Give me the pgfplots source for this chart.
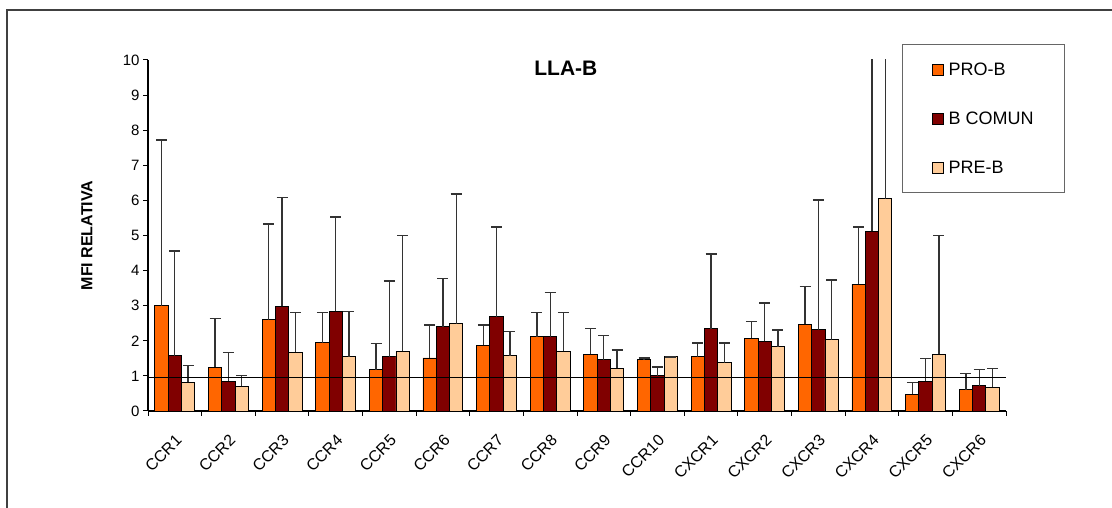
\documentclass[border=0pt]{standalone}
\usepackage{pgfplots}
\pgfplotsset{compat=1.18}
\usepackage{pgfplotstable}
\usepackage{fontspec}
\setmainfont{Liberation Sans}
\definecolor{proB}{HTML}{FF6600}
\definecolor{bcom}{HTML}{800000}
\definecolor{preB}{HTML}{FFCC99}
\definecolor{errc}{HTML}{333333}

\pgfplotstableread{
cat pro proe bc bce pre pree
0 3.00 4.72 1.58 2.98 0.82 0.48
1 1.25 1.39 0.85 0.82 0.70 0.31
2 2.60 2.73 2.98 3.11 1.68 1.13
3 1.95 0.86 2.84 2.69 1.54 1.30
4 1.18 0.74 1.54 2.16 1.70 3.30
5 1.51 0.94 2.40 1.38 2.48 3.70
6 1.87 0.58 2.68 2.56 1.58 0.69
7 2.11 0.70 2.11 1.26 1.70 1.11
8 1.62 0.74 1.46 0.70 1.22 0.52
9 1.46 0.05 1.01 0.24 1.54 0.00
10 1.54 0.40 2.35 2.12 1.38 0.56
11 2.07 0.48 1.98 1.10 1.83 0.48
12 2.47 1.07 2.31 3.70 2.03 1.70
13 3.61 1.63 5.12 8.00 6.05 8.00
14 0.48 0.34 0.85 0.65 1.62 3.38
15 0.61 0.45 0.72 0.46 0.68 0.53
}\datatable

\pgfplotsset{
  mybar/.style={ybar, bar width=0.248, bar shift=0pt,
    error bars/y dir=plus, error bars/y explicit,
    error bars/error bar style={color=errc, line width=1.3pt},
    error bars/error mark options={color=errc, line width=1.3pt, mark size=5.5pt, rotate=90}},
  sqlegend/.style={legend image code/.code={\draw[##1, draw=black, line width=0.9pt] (2pt,-5.5pt) rectangle (13pt,5.5pt);}}
}

\begin{document}
\begin{tikzpicture}[x=1pt,y=1pt]
\useasboundingbox (0,0) rectangle (1112,508);
\draw[line width=1.4pt, color=black!75] (7,0) -- (7,498) -- (1112,498);
\begin{axis}[
  at={(148pt,97pt)}, anchor=south west,
  scale only axis, width=858pt, height=351pt,
  xmin=-0.5, xmax=15.5, ymin=0, ymax=10,
  axis lines*=left, axis line style={-, line width=1.2pt, black},
  xtick={-0.5,0.5,...,15.5},
  xticklabels={CCR1,CCR2,CCR3,CCR4,CCR5,CCR6,CCR7,CCR8,CCR9,CCR10,CXCR1,CXCR2,CXCR3,CXCR4,CXCR5,CXCR6},
  x tick label as interval,
  ytick={0,1,...,10},
  tick align=outside, major tick length=5pt,
  tick style={line width=1pt, black},
  /pgf/number format/assume math mode=true,
  tick label style={font=\fontsize{15}{18}\selectfont},
  xticklabel style={rotate=45, anchor=north east, xshift=-9pt, yshift=-9pt, font=\fontsize{16}{18}\selectfont},
  title={LLA-B},
  title style={font=\bfseries\fontsize{21}{24}\selectfont, at={(rel axis cs:0.487,0.96)}, anchor=center},
  ylabel={MFI RELATIVA},
  ylabel style={font=\bfseries\fontsize{16}{18}\selectfont, at={(rel axis cs:-0.0711,0.5)}, anchor=center},
  legend style={at={(rel axis cs:0.879,1.0456)}, anchor=north west, draw=black!60, line width=1pt,
    font=\fontsize{18}{20}\selectfont, row sep=31pt, inner xsep=29pt, inner ysep=16pt,
    /tikz/every odd column/.append style={column sep=3pt}},
  legend cell align=left,
]
\addplot[mybar, fill=proB, draw=black, line width=0.9pt, sqlegend] table[x expr=\thisrow{cat}-0.248, y=pro, y error=proe] {\datatable};
\addplot[mybar, fill=bcom, draw=black, line width=0.9pt, sqlegend] table[x=cat, y=bc, y error=bce] {\datatable};
\addplot[mybar, fill=preB, draw=black, line width=0.9pt, sqlegend] table[x expr=\thisrow{cat}+0.248, y=pre, y error=pree] {\datatable};
\legend{PRO-B, B COMUN, PRE-B}
\addplot[black, line width=1.2pt, forget plot] coordinates {(-0.5,0.95) (15.5,0.95)};
\end{axis}
\end{tikzpicture}
\end{document}
